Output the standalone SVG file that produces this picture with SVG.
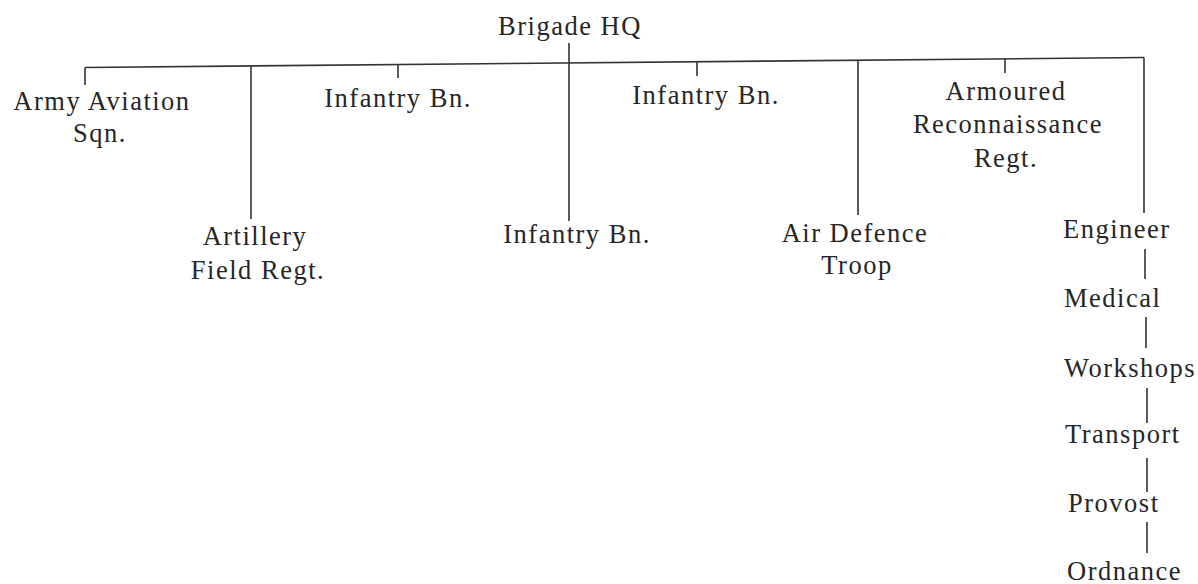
<svg xmlns="http://www.w3.org/2000/svg" width="1198" height="584" viewBox="0 0 1198 584">
<style>
text{font-family:'Liberation Serif','DejaVu Serif',serif;font-size:26.5px;fill:#262626;letter-spacing:1.5px;text-anchor:middle}
.l{text-anchor:start}
line{stroke:#333;stroke-width:1.6;fill:none}
</style>
<rect width="1198" height="584" fill="#fff"/>
<g id="connectors">
<line x1="85" y1="67.5" x2="1144" y2="57.5"/>
<line x1="569" y1="43" x2="569" y2="221"/>
<line x1="85" y1="67.5" x2="85" y2="85"/>
<line x1="251" y1="66" x2="251" y2="219"/>
<line x1="398" y1="64.5" x2="398" y2="78"/>
<line x1="697" y1="61.5" x2="697" y2="76"/>
<line x1="858" y1="60" x2="858" y2="215"/>
<line x1="1005" y1="58.5" x2="1005" y2="73"/>
<line x1="1144" y1="57.5" x2="1144" y2="213"/>
<line x1="1145" y1="249" x2="1145" y2="279"/>
<line x1="1146" y1="317" x2="1146" y2="348"/>
<line x1="1147" y1="388" x2="1147" y2="423"/>
<line x1="1147" y1="458" x2="1147" y2="492"/>
<line x1="1147" y1="522" x2="1147" y2="553"/>
</g>
<g id="brigade-hq"><text x="570" y="35">Brigade HQ</text></g>
<g id="army-aviation"><text x="102" y="110">Army Aviation</text><text x="100" y="142">Sqn.</text></g>
<g id="infantry-1"><text x="398" y="107">Infantry Bn.</text></g>
<g id="artillery"><text x="255" y="245">Artillery</text><text x="258" y="279">Field Regt.</text></g>
<g id="infantry-3"><text x="577" y="243">Infantry Bn.</text></g>
<g id="infantry-2"><text x="706" y="104">Infantry Bn.</text></g>
<g id="air-defence"><text x="855" y="242">Air Defence</text><text x="857" y="274">Troop</text></g>
<g id="armoured"><text x="1006" y="100">Armoured</text><text x="1008" y="133">Reconnaissance</text><text x="1006" y="167">Regt.</text></g>
<g id="engineer"><text class="l" x="1063" y="238">Engineer</text></g>
<g id="medical"><text class="l" x="1064" y="307">Medical</text></g>
<g id="workshops"><text class="l" x="1064" y="377">Workshops</text></g>
<g id="transport"><text class="l" x="1065" y="443">Transport</text></g>
<g id="provost"><text class="l" x="1068" y="512">Provost</text></g>
<g id="ordnance"><text class="l" x="1067" y="580">Ordnance</text></g>
</svg>
